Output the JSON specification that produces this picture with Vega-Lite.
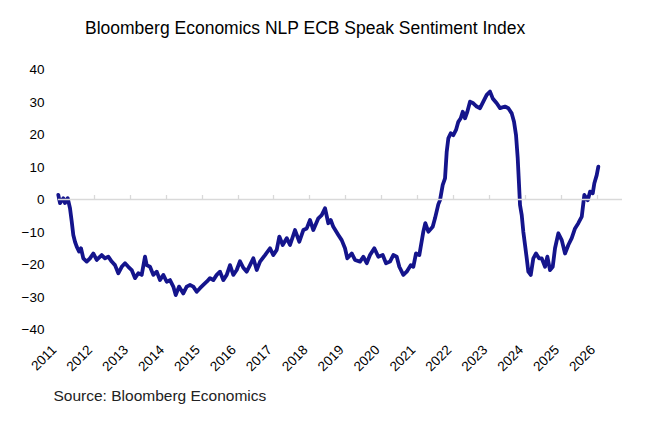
{
  "$schema": "https://vega.github.io/schema/vega-lite/v6.json",
  "autosize": {"type": "none"},
  "width": 564,
  "height": 260,
  "padding": {"left": 58, "top": 69.5, "right": 29, "bottom": 97.5},
  "background": "white",
  "config": {
    "view": {"stroke": null},
    "font": "Liberation Sans",
    "axis": {"labelOverlap": false, "labelBound": false, "labelFlush": false},
    "axisY": {"labelOverlap": false}
  },
  "title": {
    "text": "Bloomberg Economics NLP ECB Speak Sentiment Index",
    "anchor": "start",
    "frame": "group",
    "dx": 27,
    "fontSize": 17.5,
    "fontWeight": "normal",
    "font": "Liberation Sans",
    "color": "#000000",
    "offset": 11,
    "baseline": "alphabetic"
  },
  "data": {
    "values": [
      {"t": 2011.008, "v": 1.4}, {"t": 2011.056, "v": -1.1}, {"t": 2011.148, "v": 0.4}, {"t": 2011.195, "v": -1.1},
      {"t": 2011.270, "v": 0.4}, {"t": 2011.334, "v": -2.7}, {"t": 2011.382, "v": -6.8}, {"t": 2011.426, "v": -10.9},
      {"t": 2011.473, "v": -13}, {"t": 2011.521, "v": -14.5}, {"t": 2011.585, "v": -16}, {"t": 2011.640, "v": -15},
      {"t": 2011.705, "v": -18.1}, {"t": 2011.799, "v": -19.1}, {"t": 2011.891, "v": -18.1}, {"t": 2011.983, "v": -16.6},
      {"t": 2012.078, "v": -18.6}, {"t": 2012.217, "v": -17.1}, {"t": 2012.309, "v": -18.1}, {"t": 2012.401, "v": -17.6},
      {"t": 2012.495, "v": -19.1}, {"t": 2012.587, "v": -20.2}, {"t": 2012.679, "v": -22.7}, {"t": 2012.774, "v": -20.7},
      {"t": 2012.866, "v": -19.6}, {"t": 2012.958, "v": -20.7}, {"t": 2013.052, "v": -21.7}, {"t": 2013.144, "v": -24.2},
      {"t": 2013.236, "v": -22.7}, {"t": 2013.331, "v": -23.2}, {"t": 2013.423, "v": -17.6}, {"t": 2013.470, "v": -20.2},
      {"t": 2013.562, "v": -20.7}, {"t": 2013.654, "v": -23.2}, {"t": 2013.749, "v": -22.2}, {"t": 2013.840, "v": -24.8},
      {"t": 2013.932, "v": -23.2}, {"t": 2014.027, "v": -25.3}, {"t": 2014.119, "v": -24.8}, {"t": 2014.211, "v": -26.8},
      {"t": 2014.278, "v": -29.4}, {"t": 2014.370, "v": -26.8}, {"t": 2014.489, "v": -28.9}, {"t": 2014.584, "v": -26.8},
      {"t": 2014.676, "v": -26.3}, {"t": 2014.768, "v": -26.8}, {"t": 2014.862, "v": -28.4}, {"t": 2014.954, "v": -27.3},
      {"t": 2015.046, "v": -26.3}, {"t": 2015.141, "v": -25.3}, {"t": 2015.233, "v": -24.2}, {"t": 2015.325, "v": -24.8},
      {"t": 2015.419, "v": -23.2}, {"t": 2015.511, "v": -22.2}, {"t": 2015.603, "v": -24.8}, {"t": 2015.698, "v": -23.2},
      {"t": 2015.790, "v": -20.2}, {"t": 2015.882, "v": -23.2}, {"t": 2015.976, "v": -21.7}, {"t": 2016.068, "v": -19},
      {"t": 2016.160, "v": -21}, {"t": 2016.255, "v": -22.2}, {"t": 2016.347, "v": -20.2}, {"t": 2016.439, "v": -18.1},
      {"t": 2016.534, "v": -21.7}, {"t": 2016.626, "v": -19.1}, {"t": 2016.765, "v": -17.1}, {"t": 2016.904, "v": -15},
      {"t": 2016.996, "v": -17.1}, {"t": 2017.090, "v": -15.5}, {"t": 2017.163, "v": -11.4}, {"t": 2017.257, "v": -14},
      {"t": 2017.369, "v": -11.9}, {"t": 2017.461, "v": -14}, {"t": 2017.600, "v": -9.4}, {"t": 2017.720, "v": -13},
      {"t": 2017.831, "v": -9.4}, {"t": 2017.926, "v": -8.9}, {"t": 2018.018, "v": -6.3}, {"t": 2018.110, "v": -9.4},
      {"t": 2018.249, "v": -5.8}, {"t": 2018.343, "v": -4.8}, {"t": 2018.435, "v": -2.7}, {"t": 2018.527, "v": -7.3},
      {"t": 2018.594, "v": -6.3}, {"t": 2018.666, "v": -8.4}, {"t": 2018.806, "v": -10.9}, {"t": 2018.900, "v": -12.5},
      {"t": 2018.992, "v": -15}, {"t": 2019.056, "v": -18.1}, {"t": 2019.179, "v": -16.6}, {"t": 2019.271, "v": -18.6},
      {"t": 2019.410, "v": -19.1}, {"t": 2019.502, "v": -17.6}, {"t": 2019.597, "v": -19.6}, {"t": 2019.688, "v": -17.1},
      {"t": 2019.808, "v": -15}, {"t": 2019.920, "v": -17.6}, {"t": 2020.042, "v": -17.1}, {"t": 2020.134, "v": -19.6},
      {"t": 2020.245, "v": -19.1}, {"t": 2020.337, "v": -17.1}, {"t": 2020.432, "v": -17.6}, {"t": 2020.504, "v": -20.7},
      {"t": 2020.616, "v": -23.2}, {"t": 2020.710, "v": -22.2}, {"t": 2020.822, "v": -20.2}, {"t": 2020.894, "v": -20.7},
      {"t": 2020.969, "v": -16.6}, {"t": 2021.061, "v": -17.1}, {"t": 2021.173, "v": -9.9}, {"t": 2021.228, "v": -7.3},
      {"t": 2021.312, "v": -9.9}, {"t": 2021.434, "v": -8.4}, {"t": 2021.498, "v": -5.8}, {"t": 2021.590, "v": -1.5},
      {"t": 2021.638, "v": -0.2}, {"t": 2021.713, "v": 4.5}, {"t": 2021.777, "v": 6.5}, {"t": 2021.824, "v": 14.7},
      {"t": 2021.869, "v": 18.8}, {"t": 2021.936, "v": 20.4}, {"t": 2022.008, "v": 19.8}, {"t": 2022.083, "v": 21.4},
      {"t": 2022.147, "v": 23.9}, {"t": 2022.214, "v": 25}, {"t": 2022.270, "v": 27}, {"t": 2022.334, "v": 25},
      {"t": 2022.398, "v": 27}, {"t": 2022.473, "v": 30.1}, {"t": 2022.565, "v": 29.6}, {"t": 2022.660, "v": 28.6},
      {"t": 2022.752, "v": 28.1}, {"t": 2022.843, "v": 30.1}, {"t": 2022.938, "v": 32.2}, {"t": 2023.030, "v": 33.2},
      {"t": 2023.105, "v": 31.1}, {"t": 2023.217, "v": 29.6}, {"t": 2023.309, "v": 28.1}, {"t": 2023.448, "v": 28.6},
      {"t": 2023.540, "v": 28.1}, {"t": 2023.634, "v": 26.5}, {"t": 2023.698, "v": 23.9}, {"t": 2023.754, "v": 19.8},
      {"t": 2023.801, "v": 12.7}, {"t": 2023.838, "v": 4.5}, {"t": 2023.865, "v": -1.7}, {"t": 2023.913, "v": -4.8},
      {"t": 2023.957, "v": -9.9}, {"t": 2024.005, "v": -14}, {"t": 2024.052, "v": -18.1}, {"t": 2024.097, "v": -22.2},
      {"t": 2024.164, "v": -23.2}, {"t": 2024.236, "v": -18.1}, {"t": 2024.311, "v": -16.6}, {"t": 2024.395, "v": -18.1},
      {"t": 2024.470, "v": -18.1}, {"t": 2024.562, "v": -20.7}, {"t": 2024.626, "v": -17.6}, {"t": 2024.701, "v": -21.7},
      {"t": 2024.776, "v": -20.7}, {"t": 2024.840, "v": -15}, {"t": 2024.932, "v": -10.4}, {"t": 2025.027, "v": -12.5},
      {"t": 2025.119, "v": -16.6}, {"t": 2025.211, "v": -14}, {"t": 2025.305, "v": -11.9}, {"t": 2025.397, "v": -8.9},
      {"t": 2025.489, "v": -7.3}, {"t": 2025.584, "v": -5.3}, {"t": 2025.656, "v": 1.4}, {"t": 2025.751, "v": -0.2},
      {"t": 2025.815, "v": 2.4}, {"t": 2025.890, "v": 1.9}, {"t": 2025.935, "v": 5}, {"t": 2026.001, "v": 7.5},
      {"t": 2026.046, "v": 10.1}
    ]
  },
  "resolve": {"axis": {"x": "independent"}},
  "layer": [
    {
      "mark": {"type": "line", "color": "#14148c", "strokeWidth": 3.8, "strokeJoin": "round", "strokeCap": "round"},
      "encoding": {
        "x": {
          "field": "t", "type": "quantitative",
          "scale": {"domain": [2011, 2026.705], "nice": false, "zero": false},
          "axis": {
            "values": [2011, 2012, 2013, 2014, 2015, 2016, 2017, 2018, 2019, 2020, 2021, 2022, 2023, 2024, 2025, 2026],
            "format": "d",
            "grid": false, "domain": false, "ticks": false,
            "labelAngle": -45, "labelFontSize": 13.5, "labelColor": "#000000",
            "labelFont": "Liberation Sans", "labelPadding": 13, "labelOffset": -9,
            "labelFlush": false, "labelOverlap": false, "labelBound": false,
            "title": "Source: Bloomberg Economics",
            "titleFont": "Liberation Sans", "titleFontSize": 15.5, "titleFontWeight": "normal",
            "titleColor": "#222222",
            "titleAnchor": "start", "titleAlign": "left", "titleBaseline": "alphabetic",
            "titleX": -5, "titleY": 71
          }
        },
        "y": {
          "field": "v", "type": "quantitative",
          "scale": {"domain": [-40, 40], "nice": false},
          "axis": {
            "values": [-40, -30, -20, -10, 0, 10, 20, 30, 40],
            "grid": false, "domain": false, "ticks": false,
            "labelFontSize": 13.5, "labelColor": "#000000", "labelFont": "Liberation Sans",
            "labelPadding": 14, "labelOverlap": false, "labelBound": false, "labelFlush": false,
            "title": null
          }
        }
      }
    },
    {
      "data": {"values": [{"t": 2011, "v": 0}, {"t": 2026.705, "v": 0}]},
      "mark": {"type": "rule", "color": "#d9d9d9", "strokeWidth": 1.3},
      "encoding": {
        "x": {"field": "t", "type": "quantitative", "aggregate": "min",
          "axis": {
            "values": [2011, 2012, 2013, 2014, 2015, 2016, 2017, 2018, 2019, 2020, 2021, 2022, 2023, 2024, 2025, 2026],
            "labels": false, "grid": false, "domain": false,
            "ticks": true, "tickColor": "#d9d9d9", "tickSize": 5, "tickWidth": 1.3,
            "offset": -130, "title": null
          }
        },
        "x2": {"field": "t", "aggregate": "max"},
        "y": {
          "field": "v", "type": "quantitative", "aggregate": "min",
          "axis": {
            "values": [-40, -30, -20, -10, 0, 10, 20, 30, 40],
            "grid": false, "domain": false, "ticks": false,
            "labelFontSize": 13.5, "labelColor": "#000000", "labelFont": "Liberation Sans",
            "labelPadding": 14, "labelOverlap": false, "labelBound": false, "labelFlush": false,
            "title": null
          }
        }
      }
    }
  ]
}
